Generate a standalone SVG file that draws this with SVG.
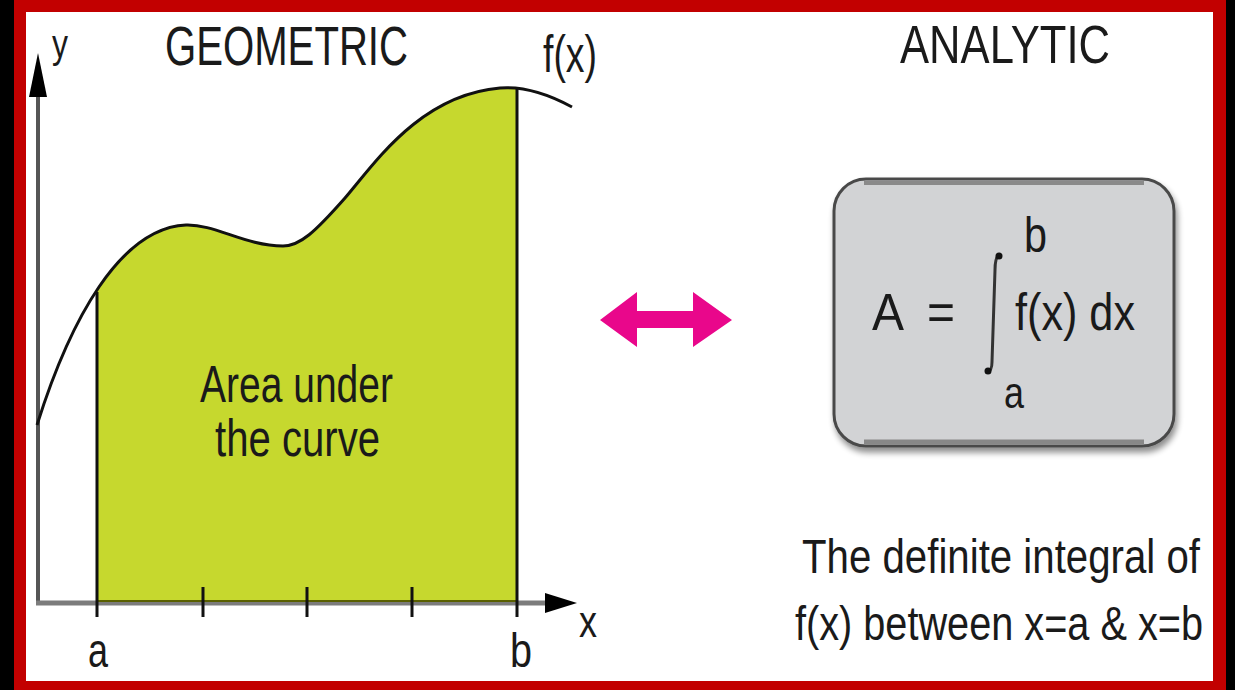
<svg xmlns="http://www.w3.org/2000/svg" width="1235" height="690" viewBox="0 0 1235 690">
  <style>
    .t { font-family: "Liberation Sans", Arial, sans-serif; fill: #1a1a1a; }
    .ax { stroke: #111; stroke-width: 3; fill: none; }
    .tick { stroke: #111; stroke-width: 3; }
  </style>
  <defs>
    <clipPath id="areaClip">
      <rect x="97" y="0" width="420" height="602"/>
    </clipPath>
    <filter id="shadow" x="-10%" y="-10%" width="125%" height="130%">
      <feGaussianBlur in="SourceAlpha" stdDeviation="3"/>
      <feOffset dx="2" dy="5" result="b"/>
      <feComponentTransfer><feFuncA type="linear" slope="0.45"/></feComponentTransfer>
      <feMerge><feMergeNode/><feMergeNode in="SourceGraphic"/></feMerge>
    </filter>
  </defs>

  <!-- frame -->
  <g id="frame">
    <rect x="0" y="0" width="1235" height="690" fill="#000"/>
    <rect x="14" y="-12" width="1212" height="714" rx="11" fill="#c20000"/>
    <rect x="26" y="12" width="1187" height="669" fill="#fff"/>
  </g>

  <!-- geometric graph -->
  <g id="area">
    <path clip-path="url(#areaClip)" fill="#c6d82e"
      d="M37,425 C70,320 120,228 186,225 C215,224 245,246 283,246 C300,246 315,232 345,198 C375,163 420,95 500,88 C525,86 550,95 572,107 L572,602 L37,602 Z"/>
  </g>

  <g id="axes">
    <line x1="38" y1="95" x2="38" y2="603" stroke="#555" stroke-width="4"/>
    <polygon points="38,53 29,97 47,97" fill="#000"/>
    <line x1="36" y1="603" x2="548" y2="603" stroke="#7c7c7c" stroke-width="5"/>
    <line x1="97" y1="601" x2="517" y2="601" stroke="#5a6000" stroke-width="2"/>
    <polygon points="545,593 577,603 545,613" fill="#000"/>
    <line class="tick" x1="97" y1="292" x2="97" y2="617" stroke="#333"/>
    <line class="tick" x1="517" y1="87" x2="517" y2="617"/>
    <line class="tick" x1="203" y1="587" x2="203" y2="617"/>
    <line class="tick" x1="307" y1="587" x2="307" y2="617"/>
    <line class="tick" x1="412" y1="587" x2="412" y2="617"/>
  </g>

  <g id="curve">
    <path class="ax" stroke-width="5"
      d="M37,425 C70,320 120,228 186,225 C215,224 245,246 283,246 C300,246 315,232 345,198 C375,163 420,95 500,88 C525,86 550,95 572,107"/>
  </g>

  <g id="graph-labels">
    <text class="t" x="165" y="65" font-size="56" textLength="243" lengthAdjust="spacingAndGlyphs">GEOMETRIC</text>
    <text class="t" x="52" y="58" font-size="40" textLength="16" lengthAdjust="spacingAndGlyphs">y</text>
    <text class="t" x="543" y="72" font-size="52" textLength="54" lengthAdjust="spacingAndGlyphs">f(x)</text>
    <text class="t" x="579" y="637" font-size="44" textLength="18" lengthAdjust="spacingAndGlyphs">x</text>
    <text class="t" x="88" y="667" font-size="48" textLength="20" lengthAdjust="spacingAndGlyphs">a</text>
    <text class="t" x="510" y="667" font-size="48" textLength="22" lengthAdjust="spacingAndGlyphs">b</text>
    <text class="t" x="200" y="402" font-size="52" textLength="193" lengthAdjust="spacingAndGlyphs" fill="#222">Area under</text>
    <text class="t" x="215" y="456" font-size="52" textLength="165" lengthAdjust="spacingAndGlyphs" fill="#222">the curve</text>
  </g>

  <!-- connector -->
  <g id="connectors">
    <polygon fill="#e9078b" points="600,320 637,292 637,311 693,311 693,292 732,320 693,347 693,328 637,328 637,347"/>
  </g>

  <!-- analytic -->
  <g id="analytic-title">
    <text class="t" x="900" y="63" font-size="53" textLength="210" lengthAdjust="spacingAndGlyphs">ANALYTIC</text>
  </g>

  <g id="formula-box">
    <rect x="834" y="179" width="340" height="267" rx="32" fill="#d2d3d5" stroke="#4a4a4a" stroke-width="3" filter="url(#shadow)"/>
    <line x1="864" y1="183" x2="1144" y2="183" stroke="#8a8a8a" stroke-width="4"/>
    <line x1="864" y1="442" x2="1144" y2="442" stroke="#888" stroke-width="5"/>
    <text class="t" x="872" y="330" font-size="52" textLength="32" lengthAdjust="spacingAndGlyphs">A</text>
    <text class="t" x="927" y="330" font-size="52" textLength="28" lengthAdjust="spacingAndGlyphs" fill="#555">=</text>
    <path d="M1000,254 C996,256 995,262 995,270 L992,362 C992,368 990,372 987,372" fill="none" stroke="#333" stroke-width="3"/>
    <circle cx="999" cy="256" r="3.5" fill="#111"/>
    <circle cx="988" cy="371" r="3.5" fill="#111"/>
    <text class="t" x="1024" y="252" font-size="50" textLength="23" lengthAdjust="spacingAndGlyphs">b</text>
    <text class="t" x="1004" y="408" font-size="44" textLength="20" lengthAdjust="spacingAndGlyphs">a</text>
    <text class="t" x="1015" y="330" font-size="52" textLength="120" lengthAdjust="spacingAndGlyphs">f(x) dx</text>
  </g>

  <g id="caption">
    <text class="t" transform="translate(802,573) scale(1,1.22)" x="0" y="0" font-size="40" textLength="398" lengthAdjust="spacingAndGlyphs" fill="#222">The definite integral of</text>
    <text class="t" transform="translate(795,640) scale(1,1.22)" x="0" y="0" font-size="40" textLength="408" lengthAdjust="spacingAndGlyphs" fill="#222">f(x) between x=a &amp; x=b</text>
  </g>
</svg>
